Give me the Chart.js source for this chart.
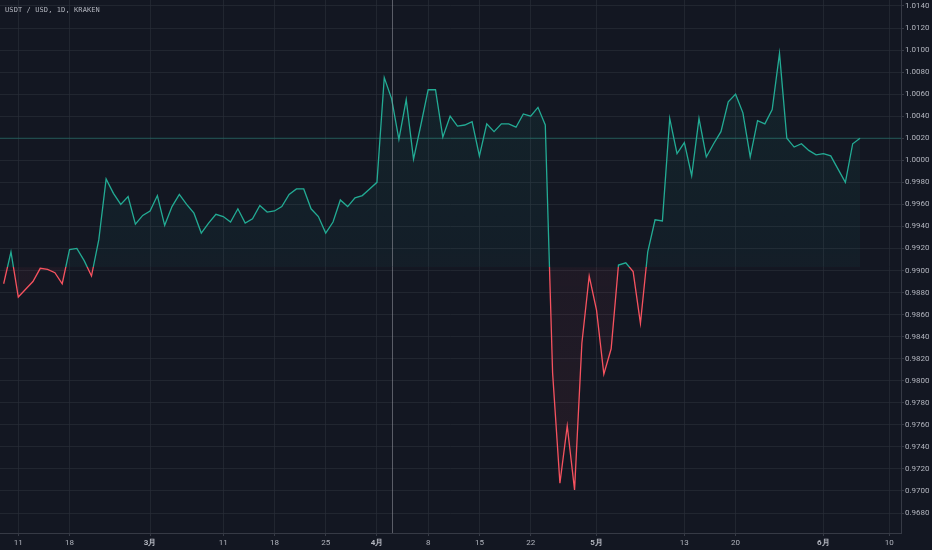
<!DOCTYPE html>
<html>
<head>
<meta charset="utf-8">
<title>USDT / USD, 1D, KRAKEN</title>
<script src="https://cdn.jsdelivr.net/npm/chart.js@4/dist/chart.umd.min.js"></script>
<style>
    html, body { margin: 0; padding: 0; background: #131722; }
    #wrap { position: relative; width: 932px; height: 550px; }
    #legend {
        position: absolute; left: 5px; top: 6px;
        font: 7px "DejaVu Sans Mono", monospace;
        color: #b2b5be; letter-spacing: 0.1px;
    }
</style>
</head>
<body>
<div id="wrap">
    <canvas id="chart"></canvas>
    <div id="legend">USDT / USD, 1D, KRAKEN</div>
</div>
<script>
// Daily closes, one per day, first value is 2019-02-09 (day -2, day 0 = Feb 11)
const FIRST_DAY = -2;
const closes = [
    0.9888, 0.9917, 0.9876, 0.9883, 0.9890, 0.9902, 0.9901, 0.9898, 0.9888, 0.9919,
    0.9920, 0.9909, 0.9895, 0.9928, 0.9983, 0.9970, 0.9960, 0.9967, 0.9942, 0.9950,
    0.9954, 0.9968, 0.9941, 0.9958, 0.9969, 0.9960, 0.9952, 0.9934, 0.9943, 0.9951,
    0.9949, 0.9944, 0.9956, 0.9943, 0.9947, 0.9959, 0.9953, 0.9954, 0.9958, 0.9969,
    0.9974, 0.9974, 0.9956, 0.9949, 0.9934, 0.9944, 0.9964, 0.9958, 0.9966, 0.9968,
    0.9974, 0.9980, 1.0075, 1.0056, 1.0019, 1.0055, 1.0001, 1.0032, 1.0064, 1.0064,
    1.0021, 1.0040, 1.0031, 1.0032, 1.0035, 1.0004, 1.0033, 1.0026, 1.0033, 1.0033,
    1.0030, 1.0042, 1.0040, 1.0048, 1.0032, 0.9807, 0.9707, 0.9759, 0.9701, 0.9834,
    0.9895, 0.9864, 0.9806, 0.9829, 0.9905, 0.9907, 0.9899, 0.9852, 0.9917, 0.9946,
    0.9945, 1.0038, 1.0006, 1.0016, 0.9986, 1.0038, 1.0003, 1.0015, 1.0026, 1.0053,
    1.0060, 1.0043, 1.0003, 1.0036, 1.0033, 1.0046, 1.0097, 1.0020, 1.0012, 1.0015,
    1.0009, 1.0005, 1.0006, 1.0004, 0.9992, 0.9980, 1.0015, 1.0020
];

// x axis ticks (day offsets from Feb 11) and their labels
const xTickDays = [0, 7, 18, 28, 35, 42, 49, 56, 63, 70, 79, 91, 98, 110, 119];
const xTickLabels = ['11', '18', '3月', '11', '18', '25', '4月', '8', '15', '22', '5月', '13', '20', '6月', '10'];

// y axis ticks
const yTickValues = [0.9680, 0.9700, 0.9720, 0.9740, 0.9760, 0.9780, 0.9800, 0.9820, 0.9840,
    0.9860, 0.9880, 0.9900, 0.9920, 0.9940, 0.9960, 0.9980, 1.0000, 1.0020, 1.0040, 1.0060,
    1.0080, 1.0100, 1.0120, 1.0140];

const BASELINE = 0.9903;     // baseline level of the area style
const CROSSHAIR_DAY = 51;    // vertical cursor line
const X_MIN = -2.5, X_MAX = 120.6;
const Y_MIN = 0.96619, Y_MAX = 1.01454;

const UP = '#22ab94';
const DOWN = '#f7525f';
const GRID = 'rgba(42, 46, 57, 0.65)';
const AXIS = '#363a45';
const TEXT = '#b2b5be';

const points = closes.map((v, i) => ({ x: FIRST_DAY + i, y: v }));
const last = closes[closes.length - 1];

// split colour at the baseline pixel
function baselineFrac(chart) {
    const area = chart.chartArea;
    const y = chart.scales.y.getPixelForValue(BASELINE);
    return Math.min(1, Math.max(0, (y - area.top) / (area.bottom - area.top)));
}

function lineColor(ctx) {
    const chart = ctx.chart;
    if (!chart.chartArea) return UP;
    const a = chart.chartArea;
    const f = baselineFrac(chart);
    const g = chart.ctx.createLinearGradient(0, a.top, 0, a.bottom);
    g.addColorStop(0, UP);
    g.addColorStop(f, UP);
    g.addColorStop(f, DOWN);
    g.addColorStop(1, DOWN);
    return g;
}

function fillColor(ctx) {
    const chart = ctx.chart;
    if (!chart.chartArea) return 'rgba(34,171,148,0.06)';
    const a = chart.chartArea;
    const f = baselineFrac(chart);
    const g = chart.ctx.createLinearGradient(0, a.top, 0, a.bottom);
    g.addColorStop(0, 'rgba(34,171,148,0.09)');
    g.addColorStop(f, 'rgba(34,171,148,0.05)');
    g.addColorStop(f, 'rgba(247,82,95,0.05)');
    g.addColorStop(1, 'rgba(247,82,95,0.08)');
    return g;
}

// crosshair vertical line
const crosshair = {
    id: 'crosshair',
    afterDatasetsDraw(chart) {
        const c = chart.ctx;
        const a = chart.chartArea;
        const x = Math.round(chart.scales.x.getPixelForValue(CROSSHAIR_DAY)) + 0.5;
        c.save();
        c.strokeStyle = 'rgba(149, 152, 161, 0.55)';
        c.lineWidth = 1;
        c.beginPath();
        c.moveTo(x, a.top);
        c.lineTo(x, a.bottom);
        c.stroke();
        c.restore();
    }
};

new Chart(document.getElementById('chart'), {
    type: 'line',
    data: {
        datasets: [
            {
                label: 'USDT / USD',
                data: points,
                borderColor: lineColor,
                backgroundColor: fillColor,
                borderWidth: 1.3,
                pointRadius: 0,
                tension: 0,
                fill: { target: { value: BASELINE } },
                order: 1
            },
            {
                label: 'last',
                data: [{ x: X_MIN, y: last }, { x: X_MAX, y: last }],
                borderColor: 'rgba(34, 171, 148, 0.4)',
                borderWidth: 1,
                pointRadius: 0,
                fill: false,
                order: 2
            }
        ]
    },
    options: {
        responsive: true,
        maintainAspectRatio: false,
        animation: false,
        layout: { padding: 0 },
        plugins: {
            legend: { display: false },
            tooltip: { enabled: false }
        },
        scales: {
            x: {
                type: 'linear',
                min: X_MIN,
                max: X_MAX,
                afterBuildTicks: s => { s.ticks = xTickDays.map(v => ({ value: v })); },
                afterFit: s => { s.height = 17; s.paddingLeft = 0; s.paddingRight = 0; },
                grid: { color: GRID, tickColor: AXIS, tickLength: 3 },
                border: { color: AXIS },
                ticks: {
                    padding: 2,
                    maxRotation: 0,
                    autoSkip: false,
                    color: TEXT,
                    font: ctx => ({
                        family: 'Roboto',
                        size: 8,
                        weight: (xTickLabels[ctx.index] || '').includes('月') ? 'bold' : 'normal'
                    }),
                    callback: (v, i) => xTickLabels[i]
                }
            },
            y: {
                position: 'right',
                min: Y_MIN,
                max: Y_MAX,
                afterBuildTicks: s => { s.ticks = yTickValues.map(v => ({ value: v })); },
                afterFit: s => { s.width = 31; s.paddingTop = 0; s.paddingBottom = 0; },
                grid: { color: GRID, tickColor: AXIS, tickLength: 3 },
                border: { color: AXIS },
                ticks: {
                    padding: 1,
                    color: TEXT,
                    font: { family: 'Roboto', size: 8 },
                    callback: v => v.toFixed(4)
                }
            }
        }
    },
    plugins: [crosshair]
});
</script>
</body>
</html>
